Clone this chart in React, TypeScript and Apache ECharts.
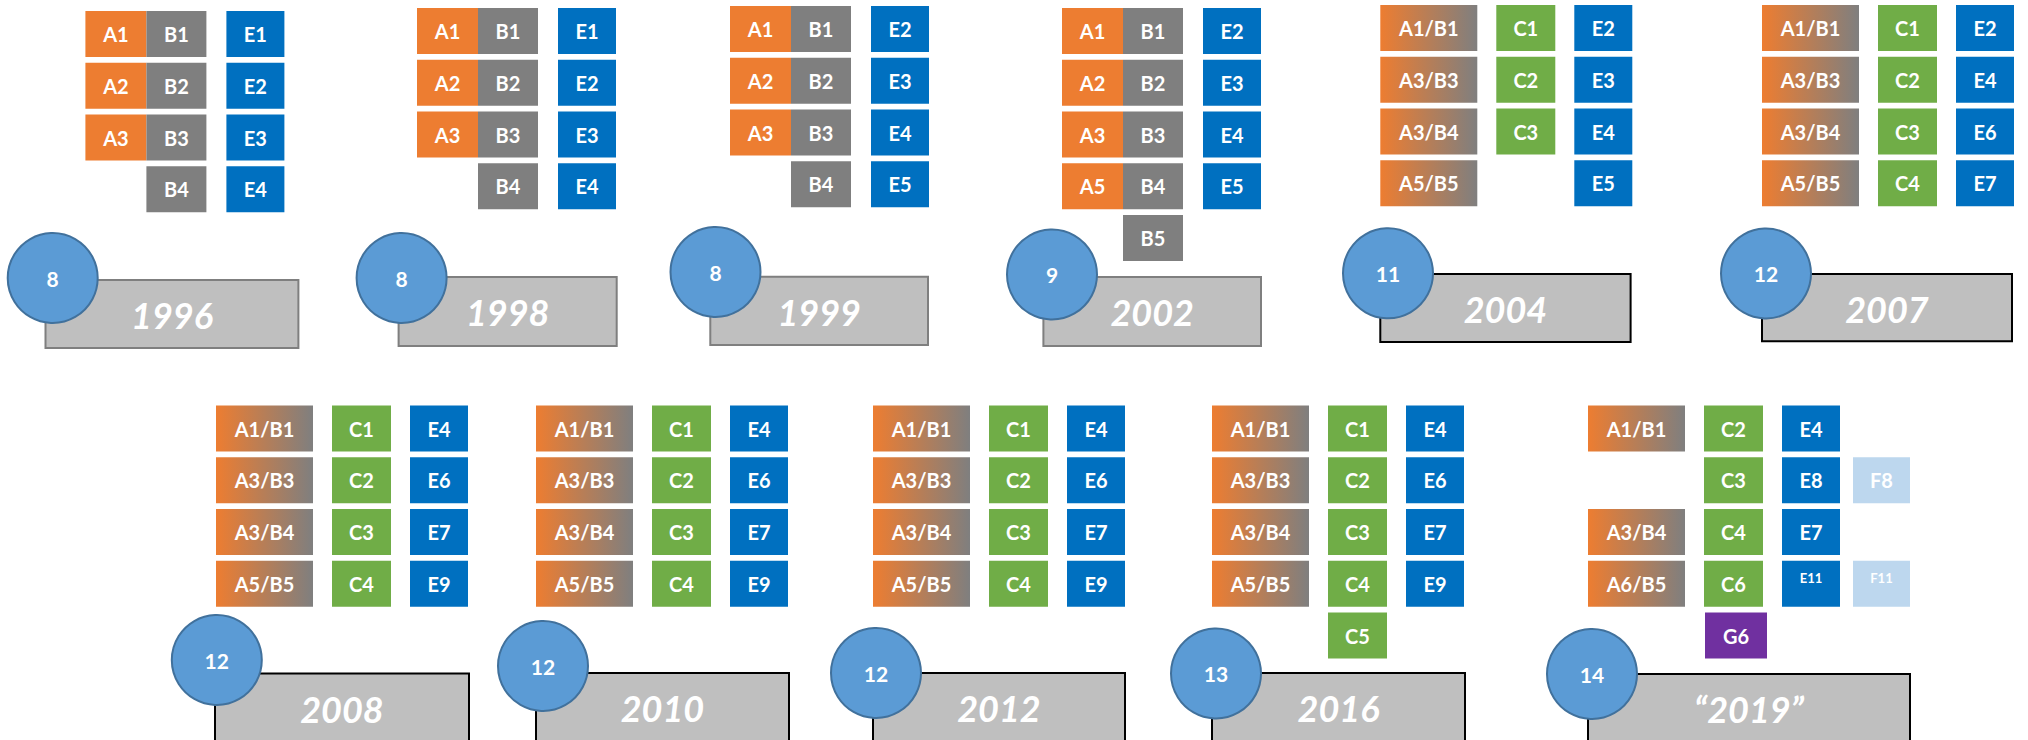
import React, { useEffect, useRef } from "react";
import * as echarts from "echarts";

// ---------- DATA ----------
const years = ["1996", "1998", "1999", "2002", "2004", "2007", "2008", "2010", "2012", "2016", "\u201C2019\u201D"];
const counts = [8, 8, 8, 9, 11, 12, 12, 12, 12, 13, 14];

// tile labels per panel, per column group (null = empty slot)
const tilesA: (string | null)[][] = [
  ["A1", "A2", "A3"], ["A1", "A2", "A3"], ["A1", "A2", "A3"], ["A1", "A2", "A3", "A5"],
  [], [], [], [], [], [], [],
];
const tilesB: (string | null)[][] = [
  ["B1", "B2", "B3", "B4"], ["B1", "B2", "B3", "B4"], ["B1", "B2", "B3", "B4"], ["B1", "B2", "B3", "B4", "B5"],
  [], [], [], [], [], [], [],
];
const tilesAB: (string | null)[][] = [
  [], [], [], [],
  ["A1/B1", "A3/B3", "A3/B4", "A5/B5"],
  ["A1/B1", "A3/B3", "A3/B4", "A5/B5"],
  ["A1/B1", "A3/B3", "A3/B4", "A5/B5"],
  ["A1/B1", "A3/B3", "A3/B4", "A5/B5"],
  ["A1/B1", "A3/B3", "A3/B4", "A5/B5"],
  ["A1/B1", "A3/B3", "A3/B4", "A5/B5"],
  ["A1/B1", null, "A3/B4", "A6/B5"],
];
const tilesC: (string | null)[][] = [
  [], [], [], [],
  ["C1", "C2", "C3"],
  ["C1", "C2", "C3", "C4"],
  ["C1", "C2", "C3", "C4"],
  ["C1", "C2", "C3", "C4"],
  ["C1", "C2", "C3", "C4"],
  ["C1", "C2", "C3", "C4", "C5"],
  ["C2", "C3", "C4", "C6"],
];
const tilesE: (string | null)[][] = [
  ["E1", "E2", "E3", "E4"],
  ["E1", "E2", "E3", "E4"],
  ["E2", "E3", "E4", "E5"],
  ["E2", "E3", "E4", "E5"],
  ["E2", "E3", "E4", "E5"],
  ["E2", "E4", "E6", "E7"],
  ["E4", "E6", "E7", "E9"],
  ["E4", "E6", "E7", "E9"],
  ["E4", "E6", "E7", "E9"],
  ["E4", "E6", "E7", "E9"],
  ["E4", "E8", "E7", "E11"],
];
const tilesF: (string | null)[][] = [
  [], [], [], [], [], [], [], [], [], [],
  [null, "F8", null, "F11"],
];
const tilesG: (string | null)[][] = [
  [], [], [], [], [], [], [], [], [], [],
  [null, null, null, null, "G6"],
];

// ---------- LAYOUT (positions / styles) ----------
const groupKeys = ["A", "B", "AB", "C", "E", "F", "G"];
const groupTiles = [tilesA, tilesB, tilesAB, tilesC, tilesE, tilesF, tilesG];
const panelOrigin: [number, number][] = [
  [85.4, 11], [417, 8], [730, 6], [1062, 8], [1380.3, 5], [1762, 5],
  [216, 405.5], [536, 405.5], [873, 405.5], [1212, 405.5], [1588, 405.5],
];
const panelOld = [true, true, true, true, false, false, false, false, false, false, false];
const panelBox: [number, number, number, number][] = [
  [45.5, 280, 298.4, 348], [398.6, 277, 616.7, 346], [710.3, 276.7, 928, 345], [1043.4, 277, 1261, 346],
  [1380.3, 274, 1630.6, 342], [1762, 274, 2012, 341.3],
  [215, 673.5, 469, 770], [536, 673, 789, 770], [873, 673, 1125, 770], [1212, 673, 1465, 770], [1588, 674, 1910, 770],
];
const panelCircle: [number, number][] = [
  [52.7, 278], [401.6, 278], [715.5, 272], [1052, 274.5], [1388, 273.3], [1766, 273.5],
  [216.8, 660], [543, 666], [876, 673], [1216, 673.5], [1592, 674],
];
const spanOld: Record<string, [number, number]> = { A: [0, 61], B: [61, 121], E: [141, 199] };
const spanNew: Record<string, [number, number]> = { AB: [0, 97], C: [116, 175], E: [194, 252], F: [265, 322], G: [117, 179] };
const ROW_PITCH = 51.75;
const TILE_H = 46;
const FONT = "Lato";

const colors: Record<string, any> = {
  A: "#ED7D31",
  B: "#7F7F7F",
  AB: new echarts.graphic.LinearGradient(0, 0, 1, 0, [
    { offset: 0, color: "#ED7D31" },
    { offset: 1, color: "#7F7F7F" },
  ]),
  C: "#70AD47",
  E: "#0070C0",
  F: "#BDD7EE",
  G: "#7030A0",
};

type Tile = { panel: number; group: number; row: number; label: string };
const tileList: Tile[] = [];
groupTiles.forEach((tiles, gi) => {
  tiles.forEach((col, p) => {
    col.forEach((label, r) => {
      if (label) tileList.push({ panel: p, group: gi, row: r, label });
    });
  });
});

export default function App() {
  const ref = useRef<HTMLDivElement>(null);
  useEffect(() => {
    if (!ref.current) return;
    const chart = echarts.init(ref.current, undefined, { renderer: "svg" });

    const rectFrom = (api: any, x1: number, y1: number, x2: number, y2: number) => {
      const a = api.coord([x1, y1]);
      const b = api.coord([x2, y2]);
      return { x: a[0], y: a[1], width: b[0] - a[0], height: b[1] - a[1] };
    };

    chart.setOption({
      animation: false,
      backgroundColor: "#ffffff",
      grid: { left: 0, right: 0, top: 0, bottom: 0 },
      xAxis: { type: "value", min: 0, max: 2028, show: false },
      yAxis: { type: "value", min: 0, max: 740, inverse: true, show: false },
      series: [
        {
          type: "custom",
          name: "boxes",
          silent: true,
          data: years.map((y, i) => [i, i]),
          renderItem: (params: any, api: any) => {
            const i = params.dataIndex;
            const [l, t, r, b] = panelBox[i];
            const shape = rectFrom(api, l, t, r, b);
            const c = api.coord([(l + r) / 2, t + 35]);
            return {
              type: "group",
              children: [
                {
                  type: "rect",
                  shape,
                  style: { fill: "#BFBFBF", stroke: panelOld[i] ? "#7F7F7F" : "#000000", lineWidth: 2 },
                },
                {
                  type: "text",
                  style: {
                    text: years[i],
                    x: c[0],
                    y: c[1],
                    align: "center",
                    verticalAlign: "middle",
                    fill: "#ffffff",
                    fontSize: 36,
                    fontWeight: "bold",
                    fontStyle: "italic",
                    fontFamily: FONT,
                  },
                },
              ],
            };
          },
        },
        {
          type: "custom",
          name: "circles",
          silent: true,
          data: counts.map((c, i) => [i, c]),
          renderItem: (params: any, api: any) => {
            const i = params.dataIndex;
            const c = api.coord(panelCircle[i]);
            return {
              type: "group",
              children: [
                {
                  type: "circle",
                  shape: { cx: c[0], cy: c[1], r: 45 },
                  style: { fill: "#5B9BD5", stroke: "#41719C", lineWidth: 2 },
                },
                {
                  type: "text",
                  style: {
                    text: String(counts[i]),
                    x: c[0],
                    y: c[1],
                    align: "center",
                    verticalAlign: "middle",
                    fill: "#ffffff",
                    fontSize: 21,
                    fontWeight: "bold",
                    fontFamily: FONT,
                  },
                },
              ],
            };
          },
        },
        {
          type: "custom",
          name: "tiles",
          silent: true,
          data: tileList.map((t) => [t.panel, t.row]),
          renderItem: (params: any, api: any) => {
            const t = tileList[params.dataIndex];
            const key = groupKeys[t.group];
            const span = panelOld[t.panel] ? spanOld[key] : spanNew[key];
            const [x0, y0] = panelOrigin[t.panel];
            const y = y0 + t.row * ROW_PITCH;
            const shape = rectFrom(api, x0 + span[0], y, x0 + span[1], y + TILE_H);
            const small = (key === "E" || key === "F") && t.label.length >= 3;
            return {
              type: "group",
              children: [
                { type: "rect", shape, style: { fill: colors[key] } },
                {
                  type: "text",
                  style: {
                    text: t.label,
                    x: shape.x + shape.width / 2,
                    y: shape.y + shape.height / 2 + (small ? -6 : 0),
                    align: "center",
                    verticalAlign: "middle",
                    fill: "#ffffff",
                    fontSize: small ? 13 : 20,
                    fontWeight: "bold",
                    fontFamily: FONT,
                  },
                },
              ],
            };
          },
        },
      ],
    });
    return () => chart.dispose();
  }, []);

  return (
    <div
      ref={ref}
      style={{ position: "fixed", left: 0, top: 0, width: 2028, height: 740, background: "#fff" }}
    />
  );
}
